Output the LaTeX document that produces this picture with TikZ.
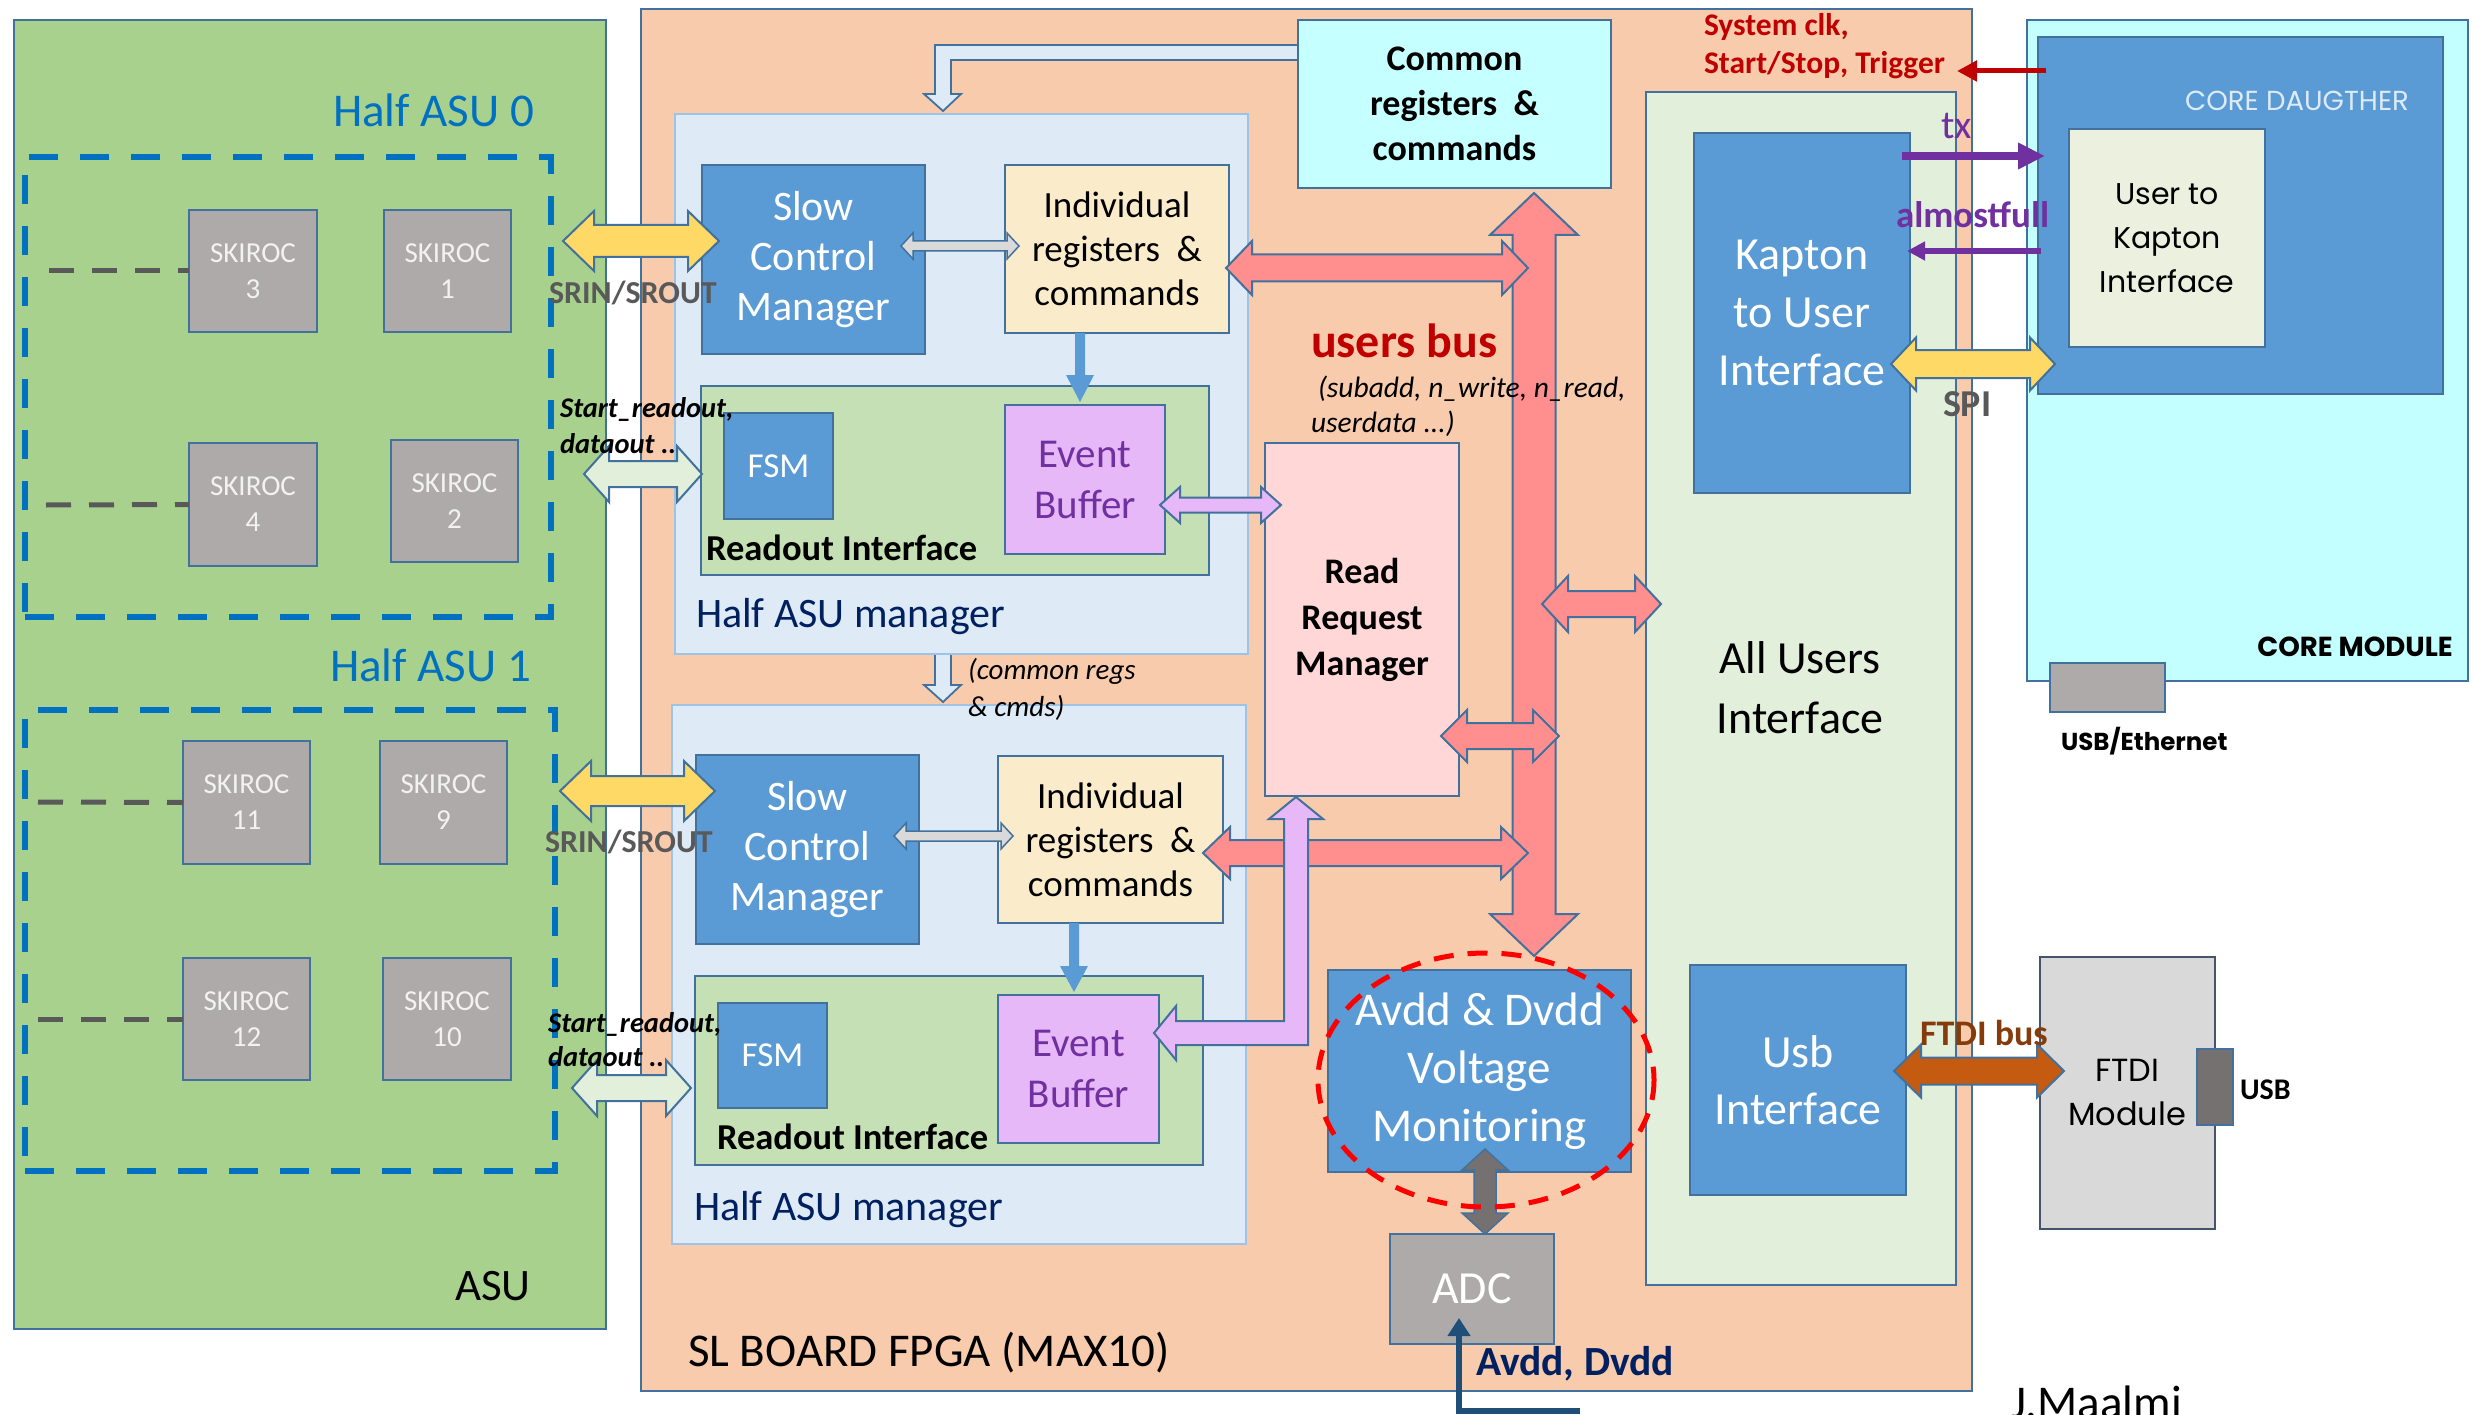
\documentclass[tikz,border=0pt]{standalone}
\usepackage{fontspec}
\setmainfont{Carlito}
\newfontfamily\gothic{Poppins}
\usetikzlibrary{arrows.meta}
\definecolor{asuG}{HTML}{A9D18E}
\definecolor{fpgaO}{HTML}{F8CBAD}
\definecolor{bordc}{HTML}{41719C}
\definecolor{hamB}{HTML}{DEEBF7}
\definecolor{hamBd}{HTML}{9DC3E6}
\definecolor{scmB}{HTML}{5B9BD5}
\definecolor{irY}{HTML}{FAEBCA}
\definecolor{roG}{HTML}{C5E0B4}
\definecolor{ebV}{HTML}{E6B8F8}
\definecolor{purp}{HTML}{7030A0}
\definecolor{comC}{HTML}{C6FFFF}
\definecolor{rrmP}{HTML}{FFD7D7}
\definecolor{auiG}{HTML}{E2EFDA}
\definecolor{cmC}{HTML}{C3FFFF}
\definecolor{ukG}{HTML}{EBF0DF}
\definecolor{skG}{HTML}{AEAAAA}
\definecolor{skT}{HTML}{F2F2F2}
\definecolor{yel}{HTML}{FFD966}
\definecolor{redA}{HTML}{FF8F8F}
\definecolor{ftdiO}{HTML}{C55A11}
\definecolor{ftdiT}{HTML}{843C0C}
\definecolor{darkR}{HTML}{C00000}
\definecolor{navy}{HTML}{002060}
\definecolor{grayT}{HTML}{595959}
\definecolor{gdark}{HTML}{767171}
\definecolor{ftdiBox}{HTML}{D9D9D9}
\definecolor{ftdiBd}{HTML}{44546A}
\definecolor{dashB}{HTML}{0070C0}
\definecolor{avdL}{HTML}{1F4E79}
\definecolor{cdT}{HTML}{DEEBF7}
\newcommand\fz[2]{\fontsize{#1}{#2}\selectfont}
\newcommand\mkbox[7]{\node[#2, anchor=north west, inner sep=0pt, outer sep=0pt, align=center, minimum width={(#5)-(#3)}, minimum height={(#6)-(#4)}] (#1) at (#3,#4) {#7};}
\newcommand\harr[7]{\draw[#1] (#2,#4) -- ({#2+#7},{#4-#6}) -- ({#2+#7},{#4-#5}) -- ({#3-#7},{#4-#5}) -- ({#3-#7},{#4-#6}) -- (#3,#4) -- ({#3-#7},{#4+#6}) -- ({#3-#7},{#4+#5}) -- ({#2+#7},{#4+#5}) -- ({#2+#7},{#4+#6}) -- cycle;}
\newcommand\varr[7]{\draw[#1] (#2,#3) -- ({#2+#6},{#3+#7}) -- ({#2+#5},{#3+#7}) -- ({#2+#5},{#4-#7}) -- ({#2+#6},{#4-#7}) -- (#2,#4) -- ({#2-#6},{#4-#7}) -- ({#2-#5},{#4-#7}) -- ({#2-#5},{#3+#7}) -- ({#2-#6},{#3+#7}) -- cycle;}
\tikzset{
 bx/.style={draw=bordc, line width=2.5pt},
 hdash/.style={draw=dashB, line width=6pt, dash pattern=on 29pt off 22pt},
 skbox/.style={bx, fill=skG, text=skT, font=\fz{29}{36}},
 gdash/.style={draw=grayT, line width=5pt, dash pattern=on 25pt off 18pt},
 lbl/.style={inner sep=0pt, outer sep=0pt, anchor=base west},
 barr/.style={draw=bordc, line width=2pt, line join=miter},
 scmstyle/.style={bx, fill=scmB, text=white, font=\fz{42}{50}},
 irstyle/.style={bx, fill=irY, text=black, font=\fz{37}{44}},
 ebstyle/.style={bx, fill=ebV, text=purp, font=\fz{41}{51}},
 fsmstyle/.style={bx, fill=scmB, text=white, font=\fz{35}{42}},
}
\begin{document}
\begin{tikzpicture}[x=1pt,y=-1pt]
\useasboundingbox (0,0) rectangle (2473,1415);
\fill[white] (0,0) rectangle (2473,1415);

% ===== ASU =====
\mkbox{asu}{bx, fill=asuG}{14}{20}{606}{1329}{}
\mkbox{hb0}{hdash}{25}{157}{551}{617}{}
\mkbox{hb1}{hdash}{25}{710}{555}{1171}{}
\mkbox{sk3}{skbox}{189}{210}{317}{332}{SKIROC\\3}
\mkbox{sk1}{skbox}{384}{210}{511}{332}{SKIROC\\1}
\mkbox{sk4}{skbox}{189}{443}{317}{566}{SKIROC\\4}
\mkbox{sk2}{skbox}{391}{440}{518}{562}{SKIROC\\2}
\mkbox{sk11}{skbox}{183}{741}{310}{864}{SKIROC\\11}
\mkbox{sk9}{skbox}{380}{741}{507}{864}{SKIROC\\9}
\mkbox{sk12}{skbox}{183}{958}{310}{1080}{SKIROC\\12}
\mkbox{sk10}{skbox}{383}{958}{511}{1080}{SKIROC\\10}
\coordinate (d3) at (49,271);
\coordinate (d4) at (46,505);
\coordinate (d11) at (38,802);
\coordinate (d12) at (38,1019);
\draw[gdash] (d3) -- (sk3.west);
\draw[gdash] (d4) -- (sk4.west);
\draw[gdash] (d11) -- (sk11.west);
\draw[gdash] (d12) -- (sk12.west);
\node[lbl, text=dashB, font=\fz{47}{56}] (tha0) at (333,127) {Half ASU 0};
\node[lbl, text=dashB, font=\fz{47}{56}] (tha1) at (330,681) {Half ASU 1};
\node[lbl, font=\fz{45}{54}] (tasu) at (455,1300) {ASU};

% ===== FPGA =====
\mkbox{fpga}{bx, fill=fpgaO}{641}{9}{1972}{1391}{}
% L arrow from common registers
\draw[barr, fill=hamB, line width=1.8pt] (1298,45) -- (935,45) -- (935,94) -- (924,94) -- (943,111) -- (961,94) -- (951,94) -- (951,60) -- (1298,60) -- cycle;
\mkbox{ham0}{draw=hamBd, line width=2.5pt, fill=hamB}{675}{114}{1248}{654}{}
\mkbox{ham1}{draw=hamBd, line width=2.5pt, fill=hamB}{672}{705}{1246}{1244}{}
% small arrow between managers
\draw[barr, fill=hamB, line width=1.8pt] (935,655) -- (935,685) -- (924,685) -- (943,702) -- (961,685) -- (951,685) -- (951,655);
\mkbox{scm0}{scmstyle}{702}{165}{925}{354}{Slow\\Control\\Manager}
\mkbox{ir0}{irstyle}{1005}{165}{1229}{333}{Individual\\registers\ \ \&\\commands}
\mkbox{ro0}{bx, fill=roG}{701}{386}{1209}{575}{}
\mkbox{fsm0}{fsmstyle}{724}{413}{833}{519}{FSM}
\mkbox{eb0}{ebstyle}{1005}{405}{1165}{554}{Event\\Buffer}
\node[lbl, font=\bfseries\fz{36.5}{43}] (tro0) at (706,560) {Readout Interface};
\node[lbl, text=navy, font=\fz{42}{49}] (tham0) at (696,627) {Half ASU manager};

\mkbox{scm1}{scmstyle}{696}{755}{919}{944}{Slow\\Control\\Manager}
\mkbox{ir1}{irstyle}{998}{756}{1223}{923}{Individual\\registers\ \ \&\\commands}
\mkbox{ro1}{bx, fill=roG}{695}{976}{1203}{1165}{}
\mkbox{fsm1}{fsmstyle}{718}{1003}{827}{1108}{FSM}
\mkbox{eb1}{ebstyle}{998}{995}{1159}{1143}{Event\\Buffer}
\node[lbl, font=\bfseries\fz{36.5}{43}] (tro1) at (717,1149) {Readout Interface};
\node[lbl, text=navy, font=\fz{42}{49}] (tham1) at (694,1220) {Half ASU manager};

\node[lbl, font=\itshape\fz{29}{35}] (tcr1) at (968,679) {(common regs};
\node[lbl, font=\itshape\fz{29}{35}] (tcr2) at (968,716) {\& cmds)};

\mkbox{common}{bx, fill=comC, font=\bfseries\fz{36}{45}}{1298}{20}{1611}{188}{Common\\registers\ \ \&\\commands}
\mkbox{rrm}{bx, fill=rrmP, font=\bfseries\fz{36}{46}}{1265}{443}{1459}{796}{Read\\Request\\Manager}
\mkbox{aui}{bx, fill=auiG}{1646}{92}{1956}{1285}{}
\node[font=\fz{46}{60}, align=center, inner sep=0pt] (taui) at (1800,688) {All Users\\Interface};
\mkbox{kap}{bx, fill=scmB, text=white, font=\fz{46}{58}}{1694}{133}{1910}{493}{Kapton\\to User\\Interface}
\mkbox{usbif}{bx, fill=scmB, text=white, font=\fz{46}{57}}{1690}{965}{1906}{1195}{Usb\\Interface}
\mkbox{avdd}{bx, fill=scmB, text=white, font=\fz{47}{58}}{1328}{970}{1631}{1172}{Avdd \& Dvdd\\Voltage\\Monitoring}
\mkbox{adc}{bx, fill=skG, text=white, font=\fz{46}{55}}{1390}{1234}{1554}{1344}{ADC}

% users bus
\varr{barr, fill=redA}{1534}{193}{956}{21.5}{44}{42}
% red horizontals
\harr{barr, fill=redA}{1226}{1528}{268}{13.5}{27}{26}
\harr{barr, fill=redA}{1203}{1528}{853}{13}{26}{27}
\harr{barr, fill=redA}{1542}{1661}{604}{13}{28}{26}
\harr{barr, fill=redA}{1441}{1559}{736}{13}{26}{26}
% violet arrows
\harr{barr, fill=ebV}{1160}{1281}{505}{7.5}{18}{20}
\draw[barr, fill=ebV] (1154,1033) -- (1176,1006) -- (1176,1021) -- (1284,1021) -- (1284,819) -- (1269,819) -- (1296,797) -- (1323,819) -- (1308,819) -- (1308,1045) -- (1176,1045) -- (1176,1060) -- cycle;
% gray SCM-IR arrows
\harr{barr, fill=ftdiBox, line width=1.5pt}{901}{1019}{246}{5}{13}{12}
\harr{barr, fill=ftdiBox, line width=1.5pt}{894}{1013}{836}{5}{13}{12}
% blue down arrows
\fill[scmB] (1075,333) -- (1085,333) -- (1085,375) -- (1094,375) -- (1080,402) -- (1066,375) -- (1075,375) -- cycle;
\fill[scmB] (1069,923) -- (1079,923) -- (1079,966) -- (1088,966) -- (1074,992) -- (1060,966) -- (1069,966) -- cycle;
% avdd-adc arrow
\varr{barr, fill=gdark, line width=1.5pt}{1485}{1149}{1234}{11}{23}{21}
% dashed ellipse
\draw[draw=red, line width=5pt, dash pattern=on 20pt off 14pt] (1486,1080) ellipse [x radius=168, y radius=127];
\node[lbl, text=darkR, font=\bfseries\fz{48}{58}] (tub) at (1311,357) {users bus};
\node[lbl, font=\itshape\fz{29.5}{35}] (tub1) at (1318,397) {(subadd, n\_write, n\_read,};
\node[lbl, font=\itshape\fz{29.5}{35}] (tub2) at (1311,432) {userdata ...)};
\node[lbl, text=black, font=\fz{47}{56}] (tfpga) at (688,1366) {SL BOARD FPGA (MAX10)};

% Avdd input
\coordinate (avS) at (1580,1411);
\coordinate (avE) at (1459,1318);
\draw[draw=avdL, line width=6pt, -{Triangle[length=18pt,width=22pt]}] (avS) -- (1459,1411) -- (avE);
\node[lbl, text=navy, font=\bfseries\fz{41.5}{48}] (tavdd) at (1476,1375) {Avdd, Dvdd};

% ===== CORE MODULE =====
\mkbox{cm}{bx, fill=cmC}{2027}{20}{2468}{681}{}
\mkbox{cd}{bx, fill=scmB}{2038}{37}{2443}{394}{}
\mkbox{u2k}{bx, fill=ukG, font=\gothic\fz{30}{44}}{2069}{129}{2265}{347}{User to\\Kapton\\Interface}
\node[inner sep=0pt, anchor=base east, text=cdT, font=\gothic\fz{27.5}{31}] (tcd) at (2409,111) {CORE DAUGTHER};
\node[inner sep=0pt, anchor=base east, font=\gothic\bfseries\fz{27.5}{31}] (tcm) at (2453,656) {CORE MODULE};
\mkbox{usbeth}{bx, fill=skG}{2050}{663}{2165}{712}{}
\node[lbl, font=\gothic\bfseries\fz{24.5}{29}] (tue) at (2061,750) {USB/Ethernet};

% ===== FTDI =====
\mkbox{ftdi}{draw=ftdiBd, line width=2.5pt, fill=ftdiBox}{2040}{957}{2215}{1229}{}
\node[font=\gothic\fz{32}{44}, align=center, inner sep=0pt] (tftdi) at (2127,1092) {FTDI\\Module};
\mkbox{usbc}{bx, fill=gdark}{2197}{1049}{2233}{1125}{}
\node[lbl, font=\bfseries\fz{30}{36}] (tusb) at (2240,1099) {USB};

% ===== external block arrows =====
\harr{barr, fill=yel}{563}{719}{241}{16}{30}{31}
\harr{barr, fill=yel}{560}{715}{791}{15}{30}{31}
\harr{barr, fill=auiG}{584}{702}{474}{13}{28}{25}
\harr{barr, fill=auiG}{572}{691}{1088}{13}{28}{25}
\harr{barr, fill=yel}{1891}{2055}{364}{14}{26.5}{25}
\harr{barr, fill=ftdiO}{1894}{2064}{1071}{13.5}{26.5}{27}

% line arrows
\coordinate (clkS) at (2046,71);
\coordinate (clkE) at (1957,71);
\draw[draw=darkR, line width=5pt, -{Triangle[length=20pt,width=20pt]}] (clkS) -- (clkE);
\coordinate (txS) at (1902,156);
\coordinate (txE) at (2045,156);
\draw[draw=purp, line width=8pt, -{Triangle[length=27pt,width=25pt]}] (txS) -- (txE);
\coordinate (afS) at (2041,251);
\coordinate (afE) at (1907,251);
\draw[draw=purp, line width=6pt, -{Triangle[length=18pt,width=18pt]}] (afS) -- (afE);

% labels
\node[lbl, text=grayT, font=\bfseries\fz{32}{38}] (tsr0) at (549,303) {SRIN/SROUT};
\node[lbl, text=grayT, font=\bfseries\fz{32}{38}] (tsr1) at (545,852) {SRIN/SROUT};
\node[lbl, font=\bfseries\itshape\fz{28.5}{34}] (tsd0a) at (560,417) {Start\_readout,};
\node[lbl, font=\bfseries\itshape\fz{28.5}{34}] (tsd0b) at (560,453) {dataout ..};
\node[lbl, font=\bfseries\itshape\fz{28.5}{34}] (tsd1a) at (548,1032) {Start\_readout,};
\node[lbl, font=\bfseries\itshape\fz{28.5}{34}] (tsd1b) at (548,1066) {dataout ..};
\node[lbl, text=darkR, font=\bfseries\fz{31.5}{38}] (tclk1) at (1704,36) {System clk,};
\node[lbl, text=darkR, font=\bfseries\fz{31.5}{38}] (tclk2) at (1704,74) {Start/Stop, Trigger};
\node[lbl, text=purp, font=\fz{40}{48}] (ttx) at (1941,139) {tx};
\node[lbl, text=purp, font=\bfseries\fz{37}{44}] (taf) at (1896,228) {almostfull};
\node[lbl, text=grayT, font=\bfseries\fz{38}{46}] (tspi) at (1943,416) {SPI};
\node[lbl, text=ftdiT, font=\bfseries\fz{36}{43}] (tftb) at (1920,1045) {FTDI bus};
\node[lbl, font=\fz{47}{56}] (tjm) at (2011,1418) {J.Maalmi};
\end{tikzpicture}
\end{document}
